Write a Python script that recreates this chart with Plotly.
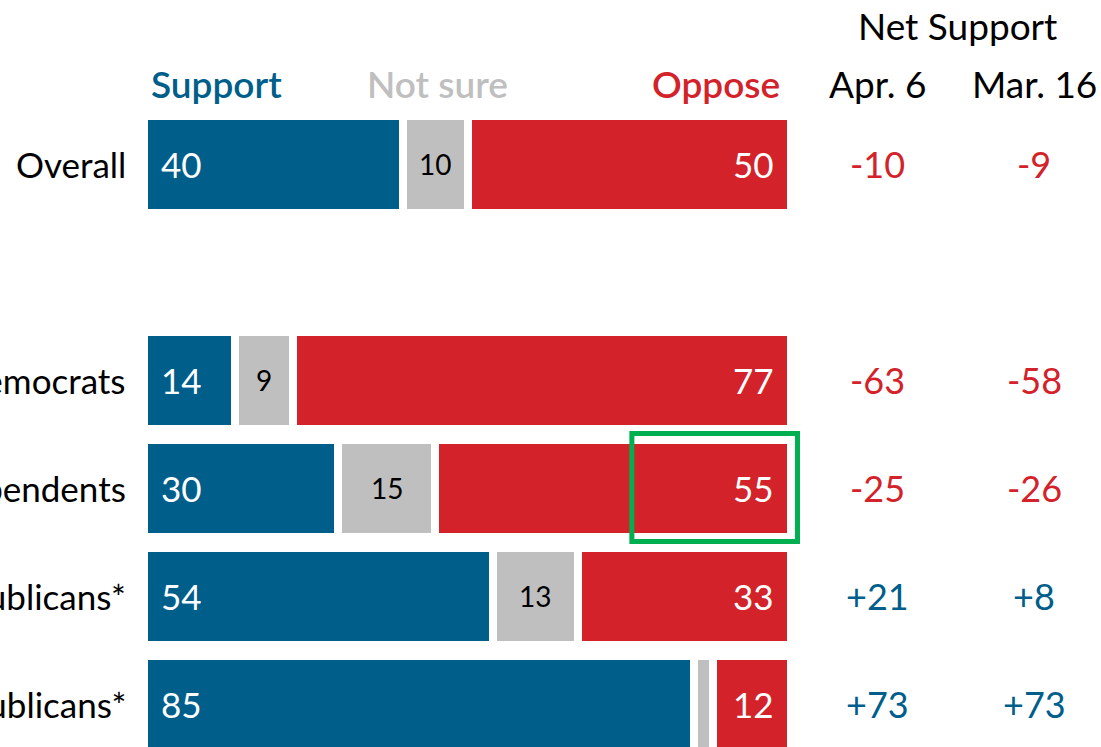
import plotly.graph_objects as go

groups = ["Overall", "Democrats", "Independents", "Non-MAGA Republicans*", "MAGA Republicans*"]
support = [40, 14, 30, 54, 85]
not_sure = [10, 9, 15, 13, 3]
oppose = [50, 77, 55, 33, 12]
net_apr6 = [-10, -63, -25, 21, 73]
net_mar16 = [-9, -58, -26, 8, 73]

BLUE = "#005e8a"
RED = "#d3222a"
GRAY = "#bfbfbf"
FONT = "Lato, Arial, sans-serif"

# row positions, leaving an empty slot below "Overall"
rows = [0, 2, 3, 4, 5]

fig = go.Figure()
for vals, col in [(support, BLUE), (not_sure, GRAY), (oppose, RED)]:
    fig.add_trace(go.Bar(
        y=rows, x=vals, orientation="h", width=0.9,
        marker=dict(color=col, line=dict(color="white", width=8)),
        hoverinfo="skip", showlegend=False,
    ))
fig.update_layout(barmode="stack")

ann = []
for i, r in enumerate(rows):
    ann.append(dict(x=-2.4, y=r, text=groups[i], xanchor="right", showarrow=False,
                    font=dict(size=35, color="black")))
    ann.append(dict(x=0, y=r, text=str(support[i]), xanchor="left", xshift=15, showarrow=False,
                    font=dict(size=35, color="white")))
    if not_sure[i] >= 5:
        ann.append(dict(x=support[i] + not_sure[i] / 2, y=r, text=str(not_sure[i]), showarrow=False,
                        font=dict(size=28, color="black")))
    ann.append(dict(x=support[i] + not_sure[i] + oppose[i], y=r, text=str(oppose[i]), xanchor="right",
                    xshift=-15, showarrow=False, font=dict(size=35, color="white")))
    for xc, v in [(113.4, net_apr6[i]), (137.6, net_mar16[i])]:
        ann.append(dict(x=xc, y=r, text=f"{v:+d}", showarrow=False,
                        font=dict(size=36, color=BLUE if v > 0 else RED)))

hy = -0.75
hfont = dict(size=37, weight=600)
ann += [
    dict(x=0.8, y=hy, text="Support", xanchor="left", showarrow=False, font=dict(hfont, color=BLUE)),
    dict(x=45.3, y=hy, text="Not sure", showarrow=False, font=dict(hfont, color=GRAY)),
    dict(x=98.6, y=hy, text="Oppose", xanchor="right", showarrow=False, font=dict(hfont, color=RED)),
    dict(x=113.4, y=hy, text="Apr. 6", showarrow=False, font=dict(size=37, color="black")),
    dict(x=137.6, y=hy, text="Mar. 16", showarrow=False, font=dict(size=37, color="black")),
    dict(x=125.7, y=-1.29, text="Net Support", showarrow=False, font=dict(size=37, color="black")),
]

fig.update_layout(
    width=1101, height=747,
    margin=dict(l=0, r=0, t=0, b=0),
    plot_bgcolor="white", paper_bgcolor="white",
    font=dict(family=FONT),
    xaxis=dict(range=[-22.26, 147.91], visible=False, fixedrange=True),
    yaxis=dict(range=[5.394, -1.523], visible=False, fixedrange=True),
    annotations=ann,
    shapes=[dict(type="rect", xref="x", yref="y", x0=75.4, x1=101, y0=2.49, y1=3.49,
                 line=dict(color="#00b050", width=5))],
)

fig.write_html("out.html", config={"displayModeBar": False},
               post_script="document.body.style.margin='0px';")
